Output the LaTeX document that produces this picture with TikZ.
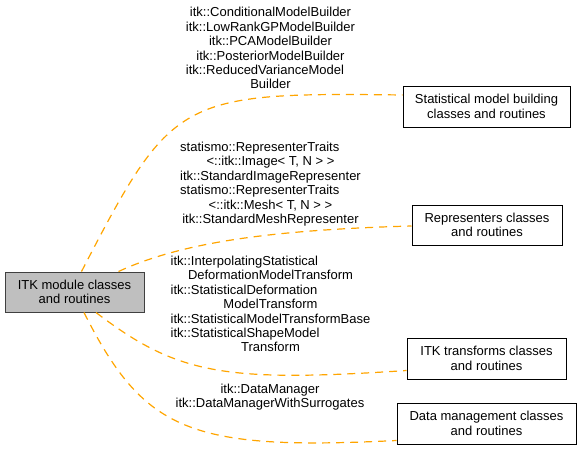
\documentclass[tikz,border=0pt]{standalone}
\usepackage{fontspec}
\usepackage{calc}
\setmainfont{Liberation Sans}
\usepackage{tikz}
\definecolor{edgeColor}{RGB}{255,165,0}
\definecolor{mainFillColor}{RGB}{191,191,191}
\definecolor{mainLineColor}{RGB}{64,64,64}
\tikzstyle{doxyGraph} = [x = 1pt, y = -1pt, every node/.style={font=\fontsize{13}{14.4}\selectfont, inner sep=0pt, align=center}]
\tikzstyle{groupBox} = [draw=black, fill=white, line width=1pt]
\tikzstyle{mainGroupBox} = [draw=mainLineColor, fill=mainFillColor, line width=1pt]
\tikzstyle{memberLabel} = [anchor=center]
\tikzstyle{groupEdge} = [color=edgeColor, line width=1.2pt, dash pattern=on 8pt off 6pt]
\newcommand{\padLine}[2]{\makebox[\widthof{#1}][l]{#2}}
\newcommand{\groupNode}[6]{\node [groupBox, minimum width=#4, minimum height=#5] (#1) at (#2,#3) {#6};}

\begin{document}
\begin{tikzpicture}[doxyGraph]
          \useasboundingbox (0,0) rectangle (581,450);
          % groups
          \node [mainGroupBox, minimum width=139, minimum height=40] (itkModule) at (74.5,292) {ITK module classes\\and routines};
          \groupNode{modelBuilding}{486.5}{106.5}{167}{41}{Statistical model building\\classes and routines}
          \groupNode{representers}{487}{225}{150}{40}{Representers classes\\and routines}
          \groupNode{itkTransforms}{486.5}{358.5}{159}{41}{ITK transforms classes\\and routines}
          \groupNode{dataManagement}{486.5}{423.5}{179}{41}{Data management classes\\and routines}

          % edges
          \draw [groupEdge] ([xshift=7pt]itkModule.north) .. controls (172,97) and (178,92) .. ([yshift=11.5pt]modelBuilding.west);
          \draw [groupEdge] ([xshift=44pt]itkModule.north) .. controls (180,243) and (268,230) .. ([yshift=-1pt]representers.west);
          \draw [groupEdge] ([xshift=21.5pt]itkModule.south) .. controls (176.8,374) and (223,382.8) .. ([yshift=-12pt]itkTransforms.west);
          \draw [groupEdge] ([xshift=9.5pt]itkModule.south) .. controls (143.9,431.5) and (189.8,450.9) .. ([yshift=-17pt]dataManagement.west);

          % member labels
          \node [memberLabel] (lblBuilders) at (270.5,48.2) {itk::ConditionalModelBuilder\\itk::LowRankGPModelBuilder\\itk::PCAModelBuilder\\itk::PosteriorModelBuilder\\\padLine{itk::LowRankGPModelBuilder}{itk::ReducedVarianceModel}\\Builder};
          \node [memberLabel] (lblRepresenters) at (270.5,184.2) {\padLine{itk::StandardImageRepresenter}{statismo::RepresenterTraits}\\<::itk::Image< T, N > >\\itk::StandardImageRepresenter\\\padLine{itk::StandardImageRepresenter}{statismo::RepresenterTraits}\\<::itk::Mesh< T, N > >\\itk::StandardMeshRepresenter};
          \node [memberLabel] (lblTransforms) at (270.5,304) {\padLine{itk::StatisticalModelTransformBase}{itk::InterpolatingStatistical}\\DeformationModelTransform\\\padLine{itk::StatisticalModelTransformBase}{itk::StatisticalDeformation}\\ModelTransform\\itk::StatisticalModelTransformBase\\\padLine{itk::StatisticalModelTransformBase}{itk::StatisticalShapeModel}\\Transform};
          \node [memberLabel] (lblData) at (270,397.2) {itk::DataManager\\itk::DataManagerWithSurrogates};
        \end{tikzpicture}
\end{document}
